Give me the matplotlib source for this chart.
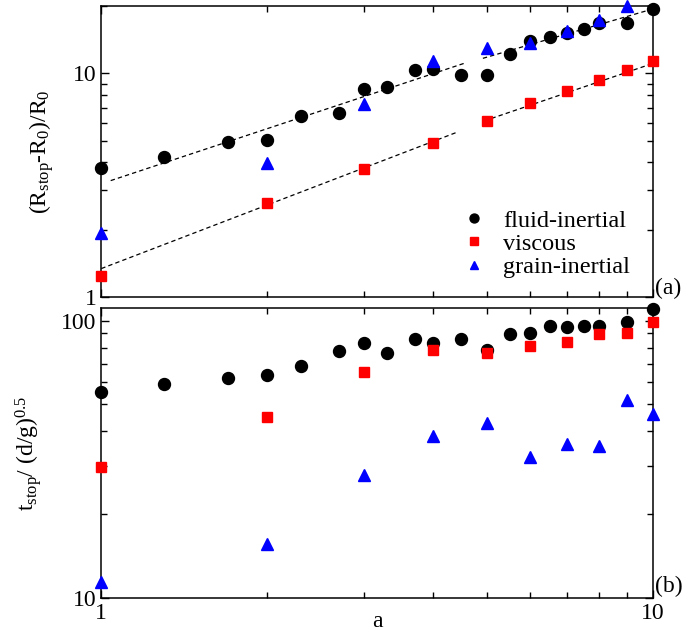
import numpy as np
import matplotlib
matplotlib.use('Agg')
import matplotlib.pyplot as plt
from matplotlib.ticker import LogLocator, NullFormatter, FixedLocator, FixedFormatter

plt.rcParams['font.family'] = 'serif'
plt.rcParams['font.serif'] = ['Liberation Serif', 'DejaVu Serif']
plt.rcParams['mathtext.fontset'] = 'custom'
plt.rcParams['mathtext.rm'] = 'Liberation Serif'
plt.rcParams['mathtext.it'] = 'Liberation Serif:italic'

# aspect ratio a
a_fluid = [1, 1.3, 1.7, 2, 2.3, 2.7, 3, 3.3, 3.7, 4, 4.5, 5, 5.5, 6, 6.5, 7, 7.5, 8, 9, 10]
a_other = [1, 2, 3, 4, 5, 6, 7, 8, 9, 10]

# (a) normalised run-out distance
R_fluid = [3.79, 4.22, 4.92, 5.04, 6.45, 6.68, 8.5, 8.73, 10.37, 10.48, 9.82, 9.82,
           12.2, 14.0, 14.6, 15.1, 15.8, 16.8, 16.8, 19.4]
R_viscous = [1.24, 2.63, 3.73, 4.87, 6.15, 7.36, 8.38, 9.35, 10.37, 11.4]
a_grain_R = [1, 2, 3, 4, 5, 6, 7, 8, 9]
R_grain = [1.93, 3.99, 7.3, 11.3, 12.97, 13.65, 15.5, 17.4, 20.0]

# (b) normalised stopping time
t_fluid = [55.2, 59.0, 62.2, 63.8, 68.6, 78.1, 83.0, 76.4, 86.1, 83.5, 86.3, 78.5,
           89.8, 90.3, 95.9, 95.3, 95.9, 95.9, 99.2, 110.0]
t_viscous = [29.6, 44.9, 65.4, 78.5, 76.4, 81.2, 83.8, 89.5, 90.3, 99.4]
t_grain = [11.4, 15.6, 27.8, 38.4, 42.9, 32.1, 35.9, 35.3, 51.7, 46.0]

# power-law fits: (a_min, a_max, prefactor, exponent)
fit_fluid = [(1.04, 4.57, 3.21, 0.818), (4.92, 10.0, 3.73, 0.716)]
fit_viscous = [(1.0, 4.44, 1.34, 0.945), (5.1, 10.0, 1.6, 0.84)]

fig = plt.figure(figsize=(6.91, 6.33), dpi=100)
ax1 = fig.add_axes([0.1466, 0.5308, 0.798, 0.4597])
ax2 = fig.add_axes([0.1466, 0.0558, 0.798, 0.4572])

def style(ax):
    ax.set_xscale('log')
    ax.set_yscale('log')
    ax.set_xlim(1, 10)
    for s in ax.spines.values():
        s.set_linewidth(1.1)
    ax.tick_params(which='both', direction='in', top=True, right=True, width=1.0)
    ax.tick_params(which='major', length=6, labelsize=17)
    ax.tick_params(which='minor', length=4)
    ax.xaxis.set_major_locator(FixedLocator([1, 10]))
    ax.xaxis.set_minor_locator(LogLocator(base=10, subs=np.arange(2, 10)))
    ax.xaxis.set_minor_formatter(NullFormatter())
    ax.yaxis.set_minor_locator(LogLocator(base=10, subs=np.arange(2, 10)))
    ax.yaxis.set_minor_formatter(NullFormatter())

style(ax1)
style(ax2)

mk = dict(linestyle='none', clip_on=False, zorder=3)

# panel (a)
for lo, hi, c, p in fit_fluid + fit_viscous:
    xx = np.array([lo, hi])
    ax1.plot(xx, c * xx ** p, color='black', lw=0.9, ls=(0, (3.5, 2.5)), zorder=2)

ax1.plot(a_fluid, R_fluid, 'o', color='black', ms=8.6, label='fluid-inertial', **mk)
ax1.plot(a_other, R_viscous, 's', color='red', ms=7.2, label='viscous', **mk)
ax1.plot(a_grain_R, R_grain, '^', color='blue', ms=8.2, label='grain-inertial', **mk)
ax1.set_ylim(1, 20)
ax1.yaxis.set_major_locator(FixedLocator([1, 10]))
ax1.yaxis.set_major_formatter(FixedFormatter(['1', '10']))
ax1.set_xticklabels([])
ax1.set_ylabel(r'(R$_{\rm stop}$-R$_0$)/R$_0$', fontsize=17, labelpad=12)
ax1.legend(loc='lower right', bbox_to_anchor=(0.985, 0.015), frameon=False, fontsize=17.5,
           markerscale=0.75, handlelength=1.0, handletextpad=0.7, labelspacing=0.05,
           borderaxespad=0.2)
ax1.text(1.005, 0.03, '(a)', transform=ax1.transAxes, fontsize=17, ha='left', va='center')

# panel (b)
ax2.plot(a_fluid, t_fluid, 'o', color='black', ms=8.6, **mk)
ax2.plot(a_other, t_viscous, 's', color='red', ms=7.2, **mk)
ax2.plot(a_other, t_grain, '^', color='blue', ms=8.2, **mk)
ax2.set_ylim(10, 111)
ax2.yaxis.set_major_locator(FixedLocator([10, 100]))
ax2.yaxis.set_major_formatter(FixedFormatter(['10', '100']))
ax2.xaxis.set_major_formatter(FixedFormatter(['1', '10']))
ax2.set_xlabel('a', fontsize=17, labelpad=-9)
ax2.set_ylabel(r't$_{\rm stop}$/ (d/g)$^{0.5}$', fontsize=17, labelpad=12)
ax2.text(1.005, 0.04, '(b)', transform=ax2.transAxes, fontsize=17, ha='left', va='center')

fig.savefig('out.png', dpi=100)
